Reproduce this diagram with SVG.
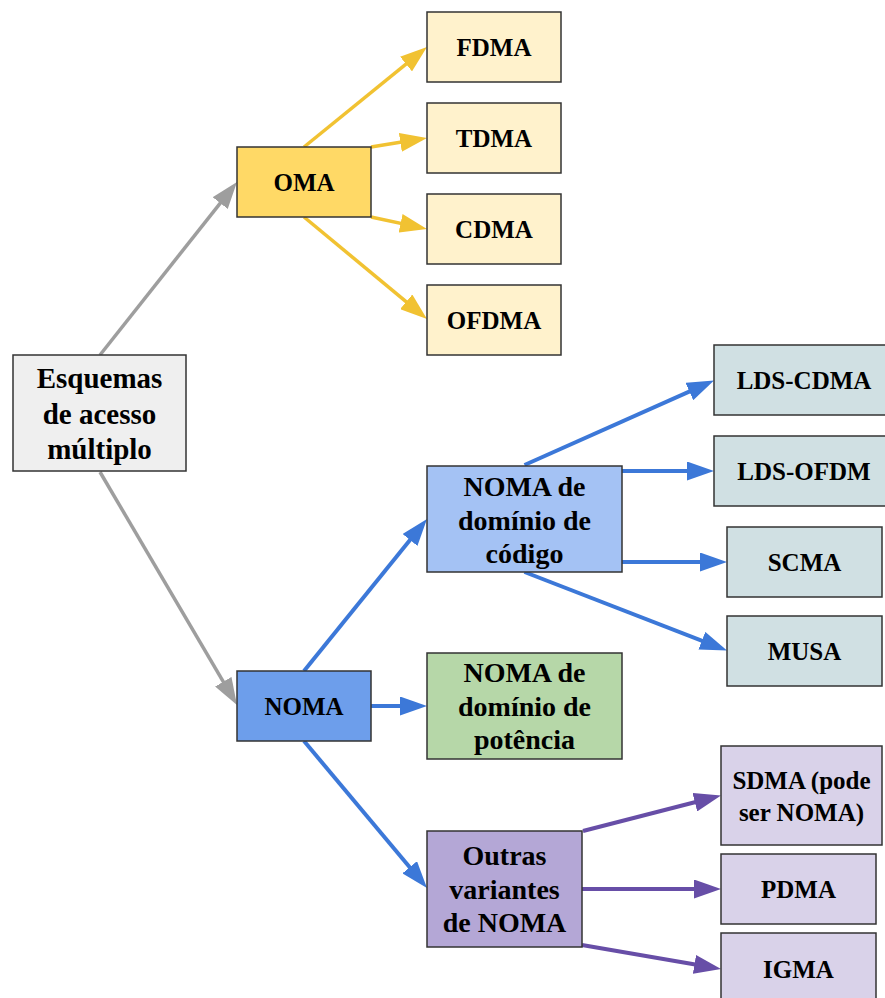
<svg xmlns="http://www.w3.org/2000/svg" width="885" height="998" viewBox="0 0 885 998">
  <style>
    .box { stroke: #333333; stroke-width: 1.5; }
    .t { font-family: "Liberation Serif", "Times New Roman", serif; font-weight: bold; fill: #000; text-anchor: middle; }
    .s { font-size: 25px; }
    .m { font-size: 28px; }
    .l { font-size: 29px; }
    .c { fill: none; stroke-linecap: butt; }
    .gray { stroke: #9e9e9e; stroke-width: 3.5; }
    .yellow { stroke: #f1c232; stroke-width: 3.5; }
    .blue { stroke: #3c78d8; stroke-width: 4; }
    .purple { stroke: #674ea7; stroke-width: 4; }
  </style>
  <defs>
    <marker id="ah-gray" markerUnits="userSpaceOnUse" markerWidth="27" markerHeight="19" refX="17" refY="9.5" orient="auto">
      <path d="M0,0 L27,9.5 L0,19 z" fill="#9e9e9e"/>
    </marker>
    <marker id="ah-yellow" markerUnits="userSpaceOnUse" markerWidth="27" markerHeight="19" refX="17" refY="9.5" orient="auto">
      <path d="M0,0 L27,9.5 L0,19 z" fill="#f1c232"/>
    </marker>
    <marker id="ah-blue" markerUnits="userSpaceOnUse" markerWidth="27" markerHeight="19" refX="17" refY="9.5" orient="auto">
      <path d="M0,0 L27,9.5 L0,19 z" fill="#3c78d8"/>
    </marker>
    <marker id="ah-purple" markerUnits="userSpaceOnUse" markerWidth="27" markerHeight="19" refX="17" refY="9.5" orient="auto">
      <path d="M0,0 L27,9.5 L0,19 z" fill="#674ea7"/>
    </marker>
  </defs>

  <rect width="885" height="998" fill="#ffffff"/>

  <!-- connectors -->
  <g id="connectors">
    <line class="c gray" x1="100" y1="355" x2="230.8" y2="189.8" marker-end="url(#ah-gray)"/>
    <line class="c gray" x1="100" y1="472" x2="231.9" y2="696.4" marker-end="url(#ah-gray)"/>

    <line class="c yellow" x1="304" y1="147" x2="419.2" y2="53.3" marker-end="url(#ah-yellow)"/>
    <line class="c yellow" x1="371" y1="147" x2="417.1" y2="139.6" marker-end="url(#ah-yellow)"/>
    <line class="c yellow" x1="371" y1="217" x2="417.2" y2="226.9" marker-end="url(#ah-yellow)"/>
    <line class="c yellow" x1="304" y1="217" x2="419.3" y2="312.6" marker-end="url(#ah-yellow)"/>

    <line class="c blue" x1="304" y1="671" x2="420.7" y2="526.8" marker-end="url(#ah-blue)"/>
    <line class="c blue" x1="371" y1="706" x2="417" y2="706" marker-end="url(#ah-blue)"/>
    <line class="c blue" x1="304" y1="741" x2="420.6" y2="880.3" marker-end="url(#ah-blue)"/>
    <line class="c blue" x1="524.5" y1="465" x2="704.9" y2="384.6" marker-end="url(#ah-blue)"/>
    <line class="c blue" x1="622" y1="471" x2="704" y2="471" marker-end="url(#ah-blue)"/>
    <line class="c blue" x1="622" y1="562" x2="717" y2="562" marker-end="url(#ah-blue)"/>
    <line class="c blue" x1="524.5" y1="572" x2="717.7" y2="646.9" marker-end="url(#ah-blue)"/>

    <line class="c purple" x1="583" y1="831" x2="711.3" y2="798" marker-end="url(#ah-purple)"/>
    <line class="c purple" x1="582" y1="889" x2="711" y2="889" marker-end="url(#ah-purple)"/>
    <line class="c purple" x1="582" y1="945" x2="711.2" y2="967.3" marker-end="url(#ah-purple)"/>
  </g>

  <!-- root -->
  <g id="esquemas">
    <rect class="box" x="13" y="355" width="173" height="116" fill="#efefef"/>
    <text class="t l" x="99.5" y="388">Esquemas</text>
    <text class="t l" x="99.5" y="423.5">de acesso</text>
    <text class="t l" x="99.5" y="459">múltiplo</text>
  </g>

  <!-- orthogonal branch -->
  <g id="oma">
    <rect class="box" x="237" y="147" width="134" height="70" fill="#ffd966"/>
    <text class="t s" x="304" y="191">OMA</text>
  </g>
  <g id="fdma">
    <rect class="box" x="427" y="12" width="134" height="70" fill="#fff2cc"/>
    <text class="t s" x="494" y="56">FDMA</text>
  </g>
  <g id="tdma">
    <rect class="box" x="427" y="103" width="134" height="70" fill="#fff2cc"/>
    <text class="t s" x="494" y="147">TDMA</text>
  </g>
  <g id="cdma">
    <rect class="box" x="427" y="194" width="134" height="70" fill="#fff2cc"/>
    <text class="t s" x="494" y="238">CDMA</text>
  </g>
  <g id="ofdma">
    <rect class="box" x="427" y="285" width="134" height="70" fill="#fff2cc"/>
    <text class="t s" x="494" y="329">OFDMA</text>
  </g>

  <!-- non-orthogonal branch -->
  <g id="noma">
    <rect class="box" x="237" y="671" width="134" height="70" fill="#6d9eeb"/>
    <text class="t s" x="304" y="715">NOMA</text>
  </g>
  <g id="noma-codigo">
    <rect class="box" x="427" y="466" width="195" height="106" fill="#a4c2f4"/>
    <text class="t m" x="524.5" y="496">NOMA de</text>
    <text class="t m" x="524.5" y="529.5">domínio de</text>
    <text class="t m" x="524.5" y="562.5">código</text>
  </g>
  <g id="noma-potencia">
    <rect class="box" x="427" y="653" width="195" height="106" fill="#b6d7a8"/>
    <text class="t m" x="524.5" y="682">NOMA de</text>
    <text class="t m" x="524.5" y="715.5">domínio de</text>
    <text class="t m" x="524.5" y="748.5">potência</text>
  </g>
  <g id="outras">
    <rect class="box" x="427" y="831" width="155" height="116" fill="#b4a7d6"/>
    <text class="t m" x="504.5" y="865">Outras</text>
    <text class="t m" x="504.5" y="898.5">variantes</text>
    <text class="t m" x="504.5" y="932">de NOMA</text>
  </g>

  <!-- code-domain schemes -->
  <g id="lds-cdma">
    <rect class="box" x="714" y="345" width="180" height="70" fill="#d0e0e3"/>
    <text class="t s" x="804" y="389">LDS-CDMA</text>
  </g>
  <g id="lds-ofdm">
    <rect class="box" x="714" y="436" width="180" height="70" fill="#d0e0e3"/>
    <text class="t s" x="804" y="480">LDS-OFDM</text>
  </g>
  <g id="scma">
    <rect class="box" x="727" y="527" width="155" height="70" fill="#d0e0e3"/>
    <text class="t s" x="804.5" y="571">SCMA</text>
  </g>
  <g id="musa">
    <rect class="box" x="727" y="616" width="155" height="70" fill="#d0e0e3"/>
    <text class="t s" x="804.5" y="660">MUSA</text>
  </g>

  <!-- other variants -->
  <g id="sdma">
    <rect class="box" x="721" y="746" width="161" height="99" fill="#d9d2e9"/>
    <text class="t s" x="801.5" y="789">SDMA (pode</text>
    <text class="t s" x="801.5" y="821">ser NOMA)</text>
  </g>
  <g id="pdma">
    <rect class="box" x="721" y="854" width="155" height="70" fill="#d9d2e9"/>
    <text class="t s" x="798.5" y="898">PDMA</text>
  </g>
  <g id="igma">
    <rect class="box" x="721" y="933" width="155" height="72" fill="#d9d2e9"/>
    <text class="t s" x="798.5" y="978">IGMA</text>
  </g>
</svg>
